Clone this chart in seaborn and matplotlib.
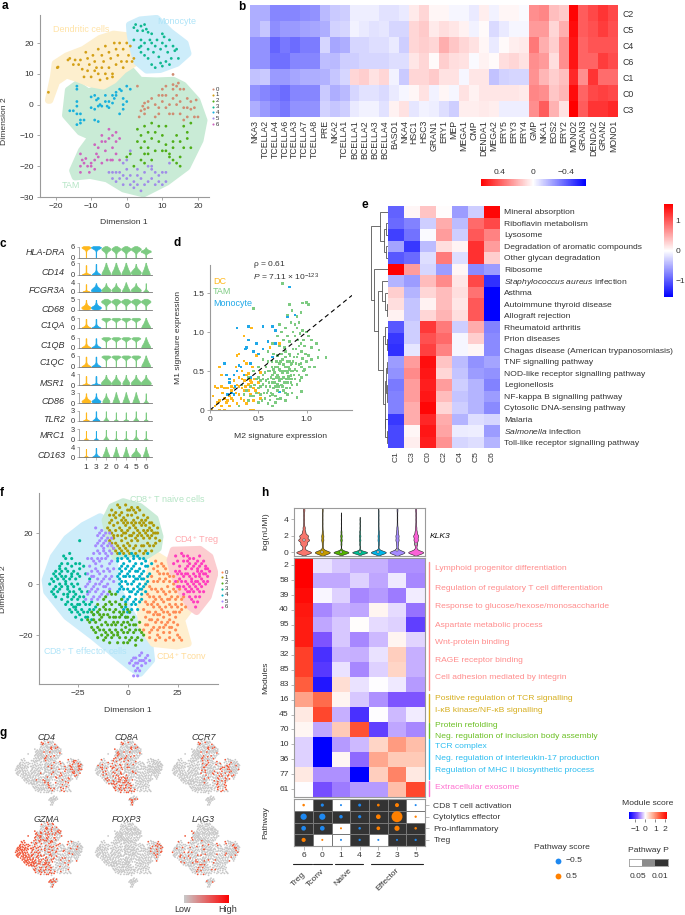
import numpy as np
import pandas as pd
import matplotlib
matplotlib.use('Agg')
import matplotlib.pyplot as plt
import seaborn as sns
from matplotlib.colors import LinearSegmentedColormap, ListedColormap, Normalize
from matplotlib.cm import ScalarMappable
from matplotlib.lines import Line2D

W, H = 685, 915

# ---------- panel a ----------
a_hull_dc = [(-22, 1.4), (-20.6, 9), (-20.1, 13.4), (-16.9, 15.8), (-12.2, 17.9), (-7.5, 21.5), (-3.7, 22.9), (.5, 22.3), (2.8, 13.9), (-.9, 11.2), (-3.7, 7.9), (-6.6, 6), (-10.3, 6.8), (-14, 8.5), (-16.9, 9.6), (-19.7, 7.4), (-21.6, 1.4)]
a_hull_mono = [(.75, 25.9), (3.75, 27.5), (8.4, 28), (12.2, 23.6), (16.4, 19.9), (17.2, 16.6), (14.1, 13.4), (9.4, 11.4), (5.6, 11.2), (2.8, 13.9), (1.4, 19.9), (.9, 23.2)]
a_hull_tam = [(-16.4, 4.7), (-14, 6.7), (-10.8, 4.1), (-7.5, 5.5), (-3.7, 6.8), (-.5, 10.7), (1.4, 11), (3.75, 7.9), (8.4, 7.7), (13.1, 7.9), (15.9, 6.3), (19.7, 1.4), (21.7, -5.1), (20.6, -11.6), (16.9, -20.3), (11.2, -25.2), (4.7, -29), (-.9, -27.4), (-5.6, -24.1), (-10.3, -23), (-14.5, -23.5), (-15.2, -21.4), (-12.7, -14.9), (-9.9, -10.5), (-13.1, -8.9), (-17.2, -3.5)]
a_pts = {
    1: [(-22,4),(-19.5,12),(-19.3,12.2),(-16.5,14.5),(-16,15),(-15,13),(-14.5,14.5),(-13.5,13),(-13,14.5),(-11.5,17),(-11,15),(-10.5,13),(-11,11),(-10,9),(-12,9),(-9.5,16),(-9,14),(-8.5,12),(-8,10),(-8,18),(-7,16),(-6.5,14),(-7,12),(-6,10),(-5.5,8.5),(-7.5,8),(-6,19),(-5,17),(-4.5,15),(-5,12),(-4,10),(-3,13),(-3,18),(-2.5,16),(-2,20),(-1.5,14),(-1,18),(0,20),(.5,16),(1,19),(-1,12),(0,14),(1.5,14),(2,15),(-9,11),(-12.5,11.5),(-3.5,20),(-4,9)],
    3: [(2,25),(2.5,26),(3,24),(4,25.5),(4.5,24),(5,26),(5.5,24.5),(6,23.5),(7,23),(2,21),(4,21),(5,20),(6,18),(7,20),(7.5,17),(8,19),(8.5,21),(9,15.5),(9.5,18),(10,20),(10.5,22),(11,19),(11.5,17),(12,21),(12.5,15),(13,19),(13.5,17.5),(14,18),(4,17),(5,16),(6,15),(7,13),(8,12),(10,12.5),(11,14),(3.5,18.5),(14.5,15),(6.5,21),(9.5,13.5),(4,19),(12,13),(10,23)],
    4: [(-14,6),(-14,5),(-10,2.5),(-9,3),(-8.5,1.5),(-8,2),(-7.5,0),(-10,-1),(-9,-1.5),(-8,-.5),(-7,-.5),(-6,1),(-5.5,-.5),(-5,-1),(-5,1),(-4,3),(-4,.5),(-3,4),(-3,3),(-2,5),(-1.5,4.5),(-1,2),(-1,0),(0,1),(-1,-1.5),(1,5),(0,6),(-2,-3),(-14,1),(-14,-.5),(-15,-2),(-14,-3),(-13,-3),(-16,-2),(-13,-5),(-13,-6),(-14,-6.5),(-12,-5),(-9,-5),(-8,-5.5),(-3.5,2),(-6,3)],
    0: [(3,6),(5,.5),(4.5,-.5),(6,1),(5,-1.5),(4,-2),(5,-3),(3.5,-4),(6,-1),(7,2),(8,0),(9,3),(9,-1),(10,3),(10,1),(11,-1),(11,3),(12,0),(12,-3),(13,5),(13,2),(13,-3),(14,0),(14,3),(14,6),(15,1),(15,-3),(13,6.5),(16,5),(16,-1),(17,2),(17,-1),(18,-1.5),(18,1),(19,-1),(20,-4),(19,-4),(17,-4),(16,-5),(15,5),(11,6),(10,5),(8,-4),(9,-3),(14.5,7),(19.5,1.5),(13,9.8)],
    2: [(3,-8),(5,-7),(7,-6),(9,-7),(11,-7),(8,-9),(6,-9),(4,-10),(3,-12),(5,-12),(7,-11),(10,-10),(9,-12),(11,-13),(14,-10),(13,-12),(16,-7),(17,-9),(18,-6),(17,-11),(15,-12),(16,-14),(18,-14),(13,-14),(11,-15),(10,-15),(4,-14),(5,-16),(4,-18),(6,-16),(8,-15),(7,-18),(5,-19),(1,-16),(0,-17),(2,-20),(12,-17),(13,-18),(15,-17),(14,-19),(12,-16),(15,-20),(6,-14)],
    6: [(-13,-22),(-13,-20),(-12.5,-18),(-13,-16),(-12,-19),(-11,-20),(-11.5,-17.5),(-10.5,-22),(-10,-19),(-9,-18),(-9,-21),(-8.5,-16),(-8,-14),(-8,-17),(-7,-12),(-7,-19),(-7,-10),(-6,-12),(-6,-15),(-5,-11),(-5,-8),(-5.5,-18),(-4,-10),(-4,-14),(-4,-18),(-3,-9),(-3,-12),(-3,-16),(-2,-18),(-2,-11),(-10,-20),(-9,-13),(-4.5,-18)],
    5: [(-5,-22),(-4,-24),(-3,-25),(-4,-22),(-2,-22),(-2,-24),(-1,-26),(0,-21),(0,-24),(1,-23),(1,-26),(2,-25),(2,-27),(3,-23),(3,-26),(4,-24),(4,-28),(5,-22),(5,-26),(6,-20),(6,-25),(7,-21),(7,-24),(8,-22),(8,-26),(9,-23),(9,-25),(10,-22),(11,-22),(11,-25),(-1,-19),(0,-18),(1,-15),(12,-19),(10,-26),(-3,-22),(3,-21),(7,-20),(-1,-23)],
}
a_palette = {0: '#D08C72', 1: '#D4A017', 2: '#4FAE17', 3: '#10B890', 4: '#18B0DC', 5: '#A08CE8', 6: '#CC66BE'}

# ---------- panel b ----------
b_cols = ['NKA3','TCELLA2','TCELLA4','TCELLA6','TCELLA3','TCELLA7','TCELLA8','PRE','NKA2','TCELLA1','BCELLA1','BCELLA2','BCELLA3','BCELLA4','BASO1','NKA4','HSC1','HSC3','GRAN1','ERY1','MEP','MEGA1','CMP','DENDA1','MEGA2','ERY5','ERY3','ERY4','GMP','NKA1','EOS2','ERY2','MONO2','GRAN3','DENDA2','GRAN2','MONO1']
b_rows = ['C2', 'C5', 'C4', 'C6', 'C1', 'C0', 'C3']
b_c2 = [-.2,-.2,-.3,-.3,-.3,-.28,-.27,-.17,-.13,-.12,-.04,-.04,-.04,-.07,-.07,-.05,.05,.1,.02,.02,-.02,-.02,-.05,.04,-.03,.02,.02,-.01,.28,.3,.16,.13,.62,.4,.45,.5,.45]
b_c5 = [-.2,-.14,-.28,-.25,-.25,-.23,-.22,-.2,-.11,-.1,-.03,-.05,-.07,-.06,-.1,-.1,.1,.13,.05,.08,.06,.03,-.03,.01,-.09,-.05,-.02,-.02,.25,.25,.1,.2,.6,.4,.43,.48,.43]
b_c4 = [-.27,-.27,-.38,-.33,-.36,-.32,-.32,-.1,-.22,-.2,-.1,-.1,-.08,-.08,-.05,-.12,.1,.12,.1,.2,.14,.1,.07,.02,-.05,.01,.04,.05,.33,.2,.12,.28,.58,.38,.42,.42,.42]
b_c6 = [-.27,-.27,-.35,-.35,-.3,-.3,-.3,-.16,-.17,-.12,-.12,-.1,-.1,-.1,-.08,-.08,.06,.1,.01,.12,.08,.07,-.01,.03,.01,.08,.1,.07,.28,.25,.08,.28,.58,.38,.38,.48,.44]
b_c1 = [-.15,-.13,-.25,-.25,-.22,-.2,-.2,-.19,-.14,-.1,.1,.12,.07,.1,-.03,-.13,.1,.1,.13,.07,.07,-.02,.06,.06,-.15,-.11,-.1,-.1,.27,.18,.12,.16,.53,.28,.5,.36,.36]
b_c0 = [-.27,-.3,-.33,-.36,-.3,-.3,-.3,-.13,-.2,-.17,-.1,-.07,-.07,-.09,-.05,-.02,.02,.07,-.03,.02,-.02,.07,.03,.06,.06,.06,.06,.05,.3,.28,.14,.18,.6,.38,.45,.47,.45]
b_c3 = [-.2,-.25,-.3,-.33,-.27,-.27,-.27,-.11,-.14,-.12,-.05,-.03,-.03,-.07,.03,.07,-.06,-.03,-.04,-.08,-.12,.04,.04,.05,.04,-.04,-.04,-.04,.28,.4,.19,.07,.63,.4,.5,.5,.53]

# ---------- panel c ----------
c_genes = ['HLA-DRA','CD14','FCGR3A','CD68','C1QA','C1QB','C1QC','MSR1','CD86','TLR2','MRC1','CD163']
c_ymax = [6, 6, 4, 5, 6, 6, 6, 4, 3, 3, 3, 4]
c_order = ['1', '3', '2', '0', '4', '5', '6']
c_levels = [0, .1, .2, .3, .4, .5, .6, .7, .8, .9, 1.0]
c_shapes = {
    'mush': [1, 1, 1, 1, 1, 1, 2, 6, 14, 22, 12],
    'dia':  [1, 1, 1, 1, 2, 4, 8, 12, 12, 8, 3],
    'low':  [1, 1, 1, 2, 6, 14, 14, 6, 2, 1, 0],
    'cone': [12, 10, 9, 8, 6, 5, 4, 3, 2, 1, 1],
    'dome': [10, 14, 14, 12, 9, 6, 3, 2, 1, 1, 0],
    'blob': [6, 14, 16, 12, 6, 3, 2, 1, 1, 1, 0],
    'spike': [20, 1, 1, 1, 1, 1, 1, 1, 1, 0, 0],
    'tail': [16, 8, 4, 2, 1, 1, 1, 1, 1, 1, 0],
}
c_rows = [
    ['mush','mush','dia','dia','dia','dia','low'],
    ['spike','tail','cone','cone','cone','dome','cone'],
    ['spike','dome','dome','dome','cone','dome','tail'],
    ['blob','blob','dia','dia','dia','dia','dia'],
    ['tail','tail','mush','mush','mush','mush','cone'],
    ['tail','tail','mush','mush','mush','mush','cone'],
    ['tail','tail','mush','mush','mush','mush','cone'],
    ['spike','spike','dome','dome','dome','dome','dome'],
    ['blob','blob','dome','cone','cone','cone','tail'],
    ['spike','tail','tail','spike','spike','tail','spike'],
    ['spike','spike','tail','spike','spike','tail','spike'],
    ['spike','tail','cone','cone','cone','dome','cone'],
]
c_widths = [
    [.9, 1., .9, .9, .95, 1., 1.],
    [.8, .8, .9, .9, .9, 1., .8],
    [.7, 1., .9, .9, .8, 1., .5],
    [.95, 1., .95, .9, .95, .95, .95],
    [.9, .9, .9, .9, .9, .9, .9],
    [.9, .9, .9, .9, .9, .9, .9],
    [.9, .9, .9, .9, .9, .9, .9],
    [.8, 1., 1., .9, .7, 1., 1.],
    [.9, .9, .7, .7, .7, .7, .5],
    [.6, .7, .5, .4, .5, .5, .4],
    [.4, .4, .5, .3, .4, .5, .4],
    [.5, .8, .7, .6, .6, .9, .6],
]
c_base_px = [257.5, 274.5, 291.7, 309.5, 328, 347.7, 366.7, 385, 403.3, 420.7, 439.7, 457.3]
c_top_px = [246.7, 263.3, 282.7, 299.3, 318.3, 337.7, 356, 374.3, 392.7, 410.7, 429.3, 447.3]
c_name_px = [252.3, 272.7, 290.7, 309, 326, 345, 362.3, 383.3, 401, 419.3, 436, 455.3]

# ---------- panel d ----------
d_tam = [(.3,.05),(.35,.2),(.4,.12),(.42,.3),(.45,.18),(.48,.4),(.5,.1),(.5,.28),(.52,.2),(.55,.45),(.55,.33),(.57,.15),(.58,.55),(.6,.25),(.6,.4),(.62,.5),(.62,.3),(.64,.62),(.65,.2),(.65,.45),(.67,.35),(.68,.55),(.7,.7),(.7,.25),(.7,.45),(.72,.6),(.72,.38),(.73,.5),(.75,.3),(.75,.65),(.76,.42),(.77,.8),(.78,.55),(.78,.22),(.8,.35),(.8,.48),(.8,.62),(.82,.72),(.82,.88),(.83,.28),(.84,.5),(.85,.4),(.85,.6),(.86,.78),(.88,.95),(.88,.52),(.9,.33),(.9,.68),(.9,1.05),(.92,.45),(.92,.82),(.94,.6),(.95,.75),(.95,.24),(.97,.9),(.98,.52),(1.0,1.0),(1.02,.7),(1.05,.8),(1.02,.95),(1.08,.55),(1.0,.62),(1.13,.77),(1.2,.67),(1.12,.67),(.75,1.62),(.45,1.3),(.72,1.1),(.8,1.22),(.85,1.28),(.82,1.35),(.9,1.2),(.92,1.12),(.94,1.25),(.96,1.37),(1.0,1.38),(1.02,1.35),(.78,1.05),(.7,.95),(.65,.85),(.6,.75),(.55,.65),(.5,.55),(.45,.5),(.4,.42),(.38,.25),(.33,.32),(.62,.13),(.68,.1),(.73,.15),(.78,.12),(.85,.22),(.9,.16),(.58,.38),(.63,.42),(.67,.48),(.72,.52),(.76,.58),(.81,.43),(.87,.45),(.83,.62),(.74,.72),(.69,.62),(.64,.55),(.6,.5),(.56,.22),(.52,.38),(.48,.22),(.95,.42),(1.0,.45),(.98,.82),(.93,.98),(.86,1.0),(.8,.95),(.76,.9),(.84,.35),(.79,.28),(.7,.33),(.66,.28),
         (.55,.4),(.6,.62),(.62,.18),(.64,.35),(.66,.52),(.68,.18),(.69,.42),(.7,.55),(.71,.3),(.73,.62),(.74,.4),(.75,.48),(.76,.25),(.77,.35),(.78,.68),(.79,.5),(.8,.2),(.81,.55),(.82,.4),(.83,.7),(.84,.58),(.85,.32),(.86,.5),(.87,.68),(.88,.4),(.89,.6),(.9,.5),(.91,.72),(.92,.58),(.93,.38),(.94,.85),(.96,.66),(.97,.5),(.99,.72),(.58,.3),(.61,.35),(.63,.22),(.66,.4),(.68,.3),(.71,.42),(.74,.32),(.76,.5),(.79,.4),(.82,.52),(.84,.44),(.86,.62),(.89,.78),(.91,.9),(.95,.55),(1.05,.65),(1.1,.85),(1.05,.9),(1.03,.55),(.96,1.02),(.88,1.1),(.84,1.12),(.74,1.0),(.66,.72),(.72,.82),(.78,.75),(.5,.42),(.46,.32),(.42,.18),(.52,.3),(.54,.12),(.57,.48),(.59,.22),(.6,.08),(.65,.05),(.7,.14)]
d_dc = [(.02,0),(.05,.05),(.03,.18),(.05,.3),(.1,.12),(.12,.05),(.13,.22),(.15,0),(.17,.1),(.18,.28),(.2,.05),(.2,.18),(.22,.3),(.24,.12),(.25,.38),(.27,.22),(.28,.08),(.3,.42),(.3,.3),(.32,.15),(.33,.5),(.35,.25),(.36,.38),(.38,.08),(.38,.6),(.4,.33),(.4,.47),(.42,.2),(.44,.55),(.45,.28),(.46,.4),(.48,.7),(.5,.35),(.52,.48),(.35,.63),(.3,.72),(.28,.7),(.1,.55),(.12,.45),(.08,.28),(.42,0),(.45,0),(.27,.55),(.22,.15),(.15,.15),(.43,1.05),(.35,.95),(.72,.85),(.62,.8),(.1,0),
        (.25,.28),(.28,.32),(.3,.2),(.33,.28),(.35,.12),(.37,.3),(.4,.25),(.43,.35),(.45,.12),(.47,.25),(.5,.22),(.52,.15),(.18,.12),(.15,.28),(.22,.25),(.08,.1),(.12,.3),(.33,.4),(.38,.45),(.42,.38)]
d_mono = [(.82,1.58),(.28,1.05),(.4,1.07),(.55,1.07),(.65,1.07),(.68,1.02),(.8,1.2),(.88,1.22),(.4,.9),(.37,.78),(.38,.8),(.3,.57),(.15,.6),(.17,.45),(.2,.4),(.25,.45),(.28,.5),(.32,.55),(.26,.3),(.22,.22),(.18,.2),(.35,.45),(.42,.6),(.48,.85),(.5,.72),(.55,.78),(.6,.88),(.68,.85),(.65,.68),(.42,.42),(.7,.42),(.72,.23),(.78,.22),(.2,.35),(.45,.75),(.25,.2)]

# ---------- panel e ----------
e_cols = ['C1', 'C3', 'C0', 'C2', 'C4', 'C5', 'C6']
e_rows = ['Mineral absorption', 'Riboflavin metabolism', 'Lysosome', 'Degradation of aromatic compounds', 'Other glycan degradation', 'Ribosome', r'$\mathit{Staphylococcus\ aureus}$ infection', 'Asthma', 'Autoimmune thyroid disease', 'Allograft rejection', 'Rheumatoid arthritis', 'Prion diseases', 'Chagas disease (American trypanosomiasis)', 'TNF signalling pathway', 'NOD-like receptor signalling pathway', 'Legionellosis', 'NF-kappa B signalling pathway', 'Cytosolic DNA-sensing pathway', 'Malaria', r'$\mathit{Salmonella}$ infection', 'Toll-like receptor signalling pathway']
e_values = [
    [-.95, .05, .35, .02, -.6, -.3, 1.5],
    [-.9, -.75, -.3, .5, -.4, .9, 1.1],
    [-1.15, -.85, -.03, .6, -.3, 1.0, .75],
    [-.55, -1.2, -.4, .2, .07, 1.25, .6],
    [-1.0, -.9, -.2, .8, -.2, 1.25, .3],
    [1.54, .6, -.25, -.6, .05, -.7, -.6],
    [-.45, -.6, .4, .7, .15, 1.1, -1.25],
    [.3, -.45, .25, .4, .2, .85, -1.54],
    [.2, -.35, .08, .4, .15, 1.0, -1.54],
    [.08, -.35, .25, .45, .2, 1.0, -1.54],
    [-1.0, -.3, 1.2, .8, -.3, .5, -.75],
    [-1.2, -.3, 1.05, .9, -.06, .3, -.7],
    [-1.25, -.15, 1.15, .75, -.06, .05, -.7],
    [-.6, .6, 1.45, .35, -.4, -.65, -.55],
    [-.65, .7, 1.4, .25, -.35, -.6, -.65],
    [-.8, .6, 1.35, .6, -.3, -.45, -.75],
    [-.75, .6, 1.4, .4, -.35, -.45, -.6],
    [-.75, .5, 1.5, .25, -.3, -.45, -.7],
    [-1.2, .5, 1.3, .5, -.45, -.2, -.25],
    [-1.1, .05, 1.4, .55, -.12, -.1, -.6],
    [-1.1, .1, 1.35, .65, -.25, -.2, -.45],
]
# nested merges: (height in px, child, child), a leaf is a row number
e_tree = (17,
          (8.7, 0, (4.5, (2.5, 1, 2), (2.5, 3, 4))),
          (14, 5,
           (10,
            (6, 6, (3, 7, (1, 8, 9))),
            (5, (3, 10, (1, 11, 12)),
             (3.5, (2, (1, 13, 14), (1.5, 15, (.8, 16, 17))), (3, 18, (1, 19, 20)))))))

# ---------- panel f ----------
f_hull_eff = [(-13.8,26.4),(-8,23.8),(-7.2,14.6),(-5.5,-1),(2.8,-12.8),(7.8,-18),(11.2,-24.5),(12,-29.8),(6.2,-35),(2,-33),(-7.2,-27.2),(-17.2,-20.7),(-30.5,-12.8),(-40.5,-3),(-41.3,1.6),(-37.2,10.7),(-30.5,17.9),(-22.2,23)]
f_hull_naive = [(-2.2,32.3),(6.2,30.4),(13.7,25.7),(16.2,18.6),(15.3,14),(8.7,10.7),(2.8,12),(-6.3,10.7),(-8.8,16),(-11.3,25),(-8,30.3)]
f_hull_treg = [(22.8,13.3),(36.2,13.6),(41.2,10.7),(43.7,4.2),(40.3,-5),(34.5,-10.8),(31.2,-8.9),(26.2,-2.4),(22.8,4.2),(21.2,9.4)]
f_hull_tconv = [(14.5,11.4),(21.2,8.1),(27.8,-1),(32,-8.9),(27,-14.1),(30.3,-23.3),(24.5,-24.3),(12.8,-23.3),(7,-16.7),(6.2,-8.9),(10.3,1.6),(12.8,10.7)]
f_pts = {
    1: [(-8,29),(-5,31),(-3,28),(-1,31),(2,30),(4,28),(6,29),(8,27),(-6,26),(-3,25),(0,27),(3,25),(5,26),(9,25),(11,24),(13,23),(-9,24),(-7,23),(-4,22),(-1,23),(1,22),(4,22),(7,23),(10,21),(12,21),(15,20),(-10,22),(-8,20),(-5,19),(-2,20),(1,19),(3,20),(6,20),(8,18),(11,18),(14,18),(-9,17),(-6,16),(-3,17),(0,16),(2,17),(5,17),(7,15),(10,16),(13,15),(16,17),(-7,14),(-4,14),(-1,14),(3,14),(6,13),(9,13),(12,13),(-5,12),(-2,12),(1,12),(-6,28),(-2,26),(2,27),(6,24),(10,26),(-9,27),(-4,30),(0,29),(12,19),(-7,18),(-1,18),(4,18),(8,21),(15,22),
        (-7,27),(-4,27),(-1,25),(1,29),(3,29),(5,30),(7,25),(9,23),(11,22),(-8,25),(-5,24),(-2,24),(0,24),(2,24),(4,24),(8,24),(12,24),(-9,21),(-6,21),(-3,21),(0,21),(3,23),(5,21),(9,20),(13,20),(-7,19),(-3,19),(-1,20),(2,19),(5,19),(7,19),(10,19),(14,20),(-8,16),(-5,15),(-2,15),(1,15),(4,15),(8,15),(11,15),(14,16),(-6,13),(-3,13),(0,13),(4,12),(8,12)],
    4: [(-4,12),(-1,11),(2,12),(5,11),(8,10),(10,12),(12,8),(-5,9),(-2,8),(1,9),(4,8),(7,8),(10,7),(-4,6),(-1,6),(2,6),(5,5),(8,5),(11,4),(-5,3),(-2,3),(1,3),(4,2),(7,2),(10,1),(-4,0),(-1,1),(2,0),(5,-1),(8,-1),(-5,-3),(-2,-2),(1,-3),(4,-4),(7,-4),(9,-3),(-3,-6),(0,-6),(3,-7),(6,-7),(-1,-9),(2,-10),(5,-10),(-5,10),(0,4),(3,10),(6,3),(-3,-1),(3,-2),(9,9),(-1,-13),(-3,-12),(0,-11),(6,0),(-4,4),
        (-3,10),(0,10),(3,11),(6,10),(9,7),(-3,7),(0,7),(3,7),(6,6),(-3,5),(1,5),(4,5),(7,4),(10,3),(-4,2),(-1,3),(3,3),(5,2),(8,2),(-3,1),(0,0),(3,1),(6,-2),(9,0),(-4,-2),(0,-2),(2,-3),(5,-3),(7,-2),(-2,-5),(1,-5),(4,-6),(7,-6),(-1,-7),(2,-8),(4,-8),(-4,-8),(-2,-10),(1,-11)],
    0: [(14,9),(17,8),(19,6),(13,6),(16,4),(20,4),(23,3),(12,3),(15,1),(18,1),(21,1),(25,1),(11,-1),(14,-2),(17,-2),(20,-1),(23,-2),(26,-2),(10,-4),(13,-5),(16,-5),(19,-4),(22,-5),(25,-5),(28,-5),(9,-7),(12,-8),(15,-8),(18,-7),(21,-8),(24,-8),(27,-8),(8,-10),(11,-11),(14,-11),(17,-10),(20,-11),(23,-11),(26,-11),(29,-9),(9,-13),(12,-14),(15,-14),(18,-13),(21,-14),(24,-13),(10,-16),(13,-17),(16,-17),(19,-16),(22,-17),(25,-16),(8,-18),(11,-19),(15,-20),(18,-19),(21,-19),(25,-20),(27,-22),(14,-22),(19,-22),(23,-22),(16,-12),(20,-6),(13,-9),
        (15,7),(18,7),(15,5),(18,4),(21,3),(13,1),(16,2),(19,2),(23,0),(12,-2),(15,-3),(18,-3),(21,-3),(24,-3),(11,-5),(14,-6),(17,-6),(21,-6),(24,-6),(27,-6),(10,-8),(13,-7),(16,-9),(19,-9),(22,-9),(25,-9),(10,-11),(13,-12),(15,-12),(18,-11),(21,-12),(24,-11),(27,-10),(11,-14),(14,-15),(17,-15),(20,-15),(23,-15),(9,-16),(12,-18),(15,-18),(18,-17),(21,-17),(24,-18),(11,-21),(16,-21),(21,-21),(26,-21)],
    6: [(24,11),(27,12),(30,11),(33,10),(36,11),(28,9),(31,8),(34,8),(37,8),(39,6),(23,8),(26,7),(29,6),(32,6),(35,5),(38,4),(41,5),(25,4),(28,3),(31,3),(34,3),(37,2),(40,3),(24,1),(27,1),(30,0),(33,0),(36,0),(39,0),(26,-1),(29,-2),(32,-2),(35,-2),(38,-3),(28,-4),(31,-5),(34,-5),(36,-5),(33,-7),(30,9),(35,6),(32,2),(37,5),(29,4),(39,7),(31,-3),(34,1),(36,3),(40,1),
        (25,9),(28,11),(31,10),(35,9),(38,9),(26,5),(30,7),(33,7),(36,7),(40,6),(24,5),(27,4),(30,4),(33,4),(36,4),(39,4),(26,2),(29,1),(32,1),(35,1),(38,1),(25,-1),(28,-1),(31,-1),(34,-1),(37,-1),(30,-3),(33,-3),(36,-3),(32,-6),(35,-7),(34,-9)],
    3: [(-32,11),(-29,12),(-26,8),(-33,8),(-30,8),(-36,5),(-33,5),(-30,5),(-27,5),(-24,6),(-21,4),(-38,2),(-35,2),(-32,2),(-29,2),(-26,2),(-39,0),(-36,-1),(-33,-1),(-30,-1),(-27,-1),(-38,-3),(-35,-3),(-32,-4),(-29,-3),(-24,8),(-36,3),(-31,0),(-34,6),(-28,7),(-26,-4),(-28,-6),(-25,-6),(-22,-5),(-30,-7),(-27,-9),(-24,-8),(-21,-8),(-18,-7),(-28,-11),(-25,-11),(-22,-11),(-19,-10),(-16,-9),(-26,-13),(-23,-14),(-20,-13),(-17,-12),(-30,-4),(-37,-4),(-33,3),(-26,-9),(-23,-3),(-20,-3),(-22,7),(-19,2),(-24,17),
        (-31,10),(-28,10),(-34,7),(-31,6),(-28,4),(-25,4),(-37,4),(-34,4),(-31,3),(-28,3),(-24,3),(-37,1),(-34,0),(-31,1),(-28,0),(-25,0),(-37,-2),(-34,-2),(-30,-2),(-27,-3),(-24,-2),(-36,-5),(-33,-6),(-30,-5),(-27,-5),(-24,-5),(-31,-8),(-28,-8),(-25,-8),(-22,-7),(-19,-8),(-29,-10),(-26,-10),(-23,-10),(-20,-11),(-17,-10),(-24,-12),(-21,-13),(-18,-14),(-15,-11)],
    5: [(-16,22),(-13,21),(-15,19),(-12,19),(-9,20),(-14,17),(-11,17),(-8,18),(-16,15),(-13,15),(-10,15),(-7,14),(-17,12),(-14,12),(-11,12),(-8,12),(-20,10),(-17,9),(-14,9),(-11,10),(-8,9),(-19,7),(-16,6),(-13,7),(-10,6),(-7,6),(-20,4),(-17,3),(-14,4),(-11,3),(-8,3),(-19,1),(-16,0),(-13,1),(-10,0),(-21,-1),(-18,-2),(-15,-2),(-12,-3),(-9,-2),(-20,-4),(-17,-5),(-14,-5),(-12,14),(-15,10),(-9,5),(-12,-1),(-21,-6),(2,-30),(4,-29),(6,-28),(8,-30),(10,-28),(3,-32),(5,-31),(7,-32),(9,-31),(4,-34),(6,-34),(3,-36),(5,-36),(7,-27),(1,-31),(11,-30),
        (-14,20),(-11,20),(-13,18),(-10,18),(-15,16),(-12,16),(-9,16),(-8,15),(-15,13),(-12,13),(-9,13),(-18,10),(-16,8),(-13,10),(-10,11),(-9,8),(-18,5),(-15,5),(-12,5),(-9,2),(-18,3),(-15,2),(-12,2),(-7,1),(-20,0),(-17,-1),(-14,0),(-11,-1),(-19,-3),(-16,-3),(-13,-4),(-10,-4),(-18,-6),(-15,-6),(3,-29),(5,-33),(7,-30),(9,-29),(4,-31),(6,-30)],
    2: [(-9,-3),(-6,-4),(-12,-6),(-9,-7),(-6,-7),(-3,-6),(-15,-8),(-12,-9),(-9,-10),(-6,-10),(-3,-9),(0,-10),(-18,-11),(-15,-11),(-12,-12),(-9,-13),(-6,-13),(-3,-12),(0,-13),(3,-13),(-20,-14),(-17,-14),(-14,-14),(-11,-15),(-8,-16),(-5,-15),(-2,-15),(1,-16),(4,-16),(-18,-17),(-15,-17),(-12,-18),(-9,-18),(-6,-18),(-3,-18),(0,-19),(3,-19),(6,-18),(-16,-19),(-13,-20),(-10,-20),(-7,-20),(-4,-21),(-1,-21),(2,-21),(5,-21),(8,-20),(-12,-22),(-9,-23),(-5,-23),(0,-23),(4,-24),(7,-22),(-14,-12),(-4,-11),(-7,-15),(-11,-8),(-1,-17),
        (-8,-4),(-11,-5),(-8,-8),(-4,-8),(-1,-8),(-14,-10),(-11,-10),(-7,-11),(-2,-11),(1,-11),(-17,-12),(-13,-13),(-10,-12),(-7,-13),(-4,-13),(-1,-13),(2,-14),(-19,-15),(-16,-15),(-13,-16),(-10,-16),(-6,-16),(-3,-16),(0,-15),(3,-16),(6,-15),(-17,-18),(-14,-18),(-11,-19),(-8,-19),(-5,-19),(-2,-19),(1,-18),(4,-18),(-15,-21),(-11,-21),(-8,-21),(-5,-20),(-2,-23),(1,-22),(4,-22),(7,-19)],
}
f_palette = {0: '#FF8C55', 1: '#AE9A08', 2: '#4DAA1A', 3: '#00B894', 4: '#00AFC8', 5: '#A58AFF', 6: '#FF3DBE'}

# ---------- panel g ----------
g_genes = ['CD4', 'CD8A', 'CCR7', 'GZMA', 'FOXP3', 'LAG3']
# how often a cluster's cells light up for that gene: one in n, missing means never
g_every = {
    'CD4': {6: 3, 0: 5, 1: 7, 2: 9, 4: 11},
    'CD8A': {2: 2, 5: 3, 3: 5, 1: 7, 4: 7},
    'CCR7': {0: 3, 4: 5, 1: 7, 6: 6},
    'GZMA': {3: 1, 2: 2, 5: 2, 1: 3, 4: 3, 0: 9, 6: 10},
    'FOXP3': {6: 4},
    'LAG3': {3: 8, 2: 8, 6: 7, 5: 8, 4: 10, 0: 13},
}
g_boxes = [(11, 736, 86, 808), (91, 736, 166, 808), (168, 736, 243, 808),
           (11, 818, 86, 890), (91, 818, 166, 890), (168, 818, 243, 890)]

# ---------- panel h ----------
h_cols = ['6', '0', '1', '4', '2', '3', '5']
h_rows = ['2', '58', '39', '40', '95', '79', '32', '85', '83', '16', '45', '70', '10', '36', '77', '61']
h_values = [
    [2.2, -.12, -.25, -.35, -.35, -.5, -.5],
    [2.2, -.38, -.38, -.2, -.4, -.1, -.55],
    [2.1, -.03, -.2, -.55, -.45, -.6, -.08],
    [2.0, -.55, -.35, -.4, .1, -.15, -.65],
    [1.95, -.4, -.25, .03, -.15, -.2, -1.0],
    [1.95, -.8, -.25, -.55, -.3, .1, -.18],
    [1.65, -1.15, -.33, -.35, -.12, .45, -.35],
    [1.65, -1.05, -.12, -.55, -.2, .4, -.35],
    [1.4, -1.4, .3, -.12, 0, -.1, -.45],
    [.85, 1.3, .1, -.25, -.5, -.8, -.8],
    [.2, 1.6, -.35, -1.15, 0, -.3, -.08],
    [.08, -.4, .5, 1.5, -1.0, -.4, -.55],
    [-.2, -1.63, -.45, -.3, .4, .9, .6],
    [-.2, -1.63, .08, -.7, .8, .5, .5],
    [.2, -.5, -.5, -1.63, .45, 1.1, .2],
    [0, -.85, -.6, -.45, -.45, .6, 1.6],
]
h_terms = [
    ('Lymphoid progenitor differentiation', 568.7, 0), ('Regulation of regulatory T cell differentiation', 588, 0),
    ('Response to glucose/hexose/monosaccharide', 606.3, 0), ('Aspartate metabolic process', 625.3, 0),
    ('Wnt-protein binding', 642.7, 0), ('RAGE receptor binding', 661, 0), ('Cell adhesion mediated by integrin', 677.3, 0),
    ('Positive regulation of TCR signalling', 699, 1), ('I-κB kinase/NF-κB signalling', 710, 1),
    ('Protein refolding', 725.7, 2), ('Neg. regulation of inclusion body assembly', 736.5, 2),
    ('TCR complex', 746.5, 3), ('Neg. regulation of interleukin-17 production', 758.3, 3),
    ('Regulation of MHC II biosynthetic process', 771, 3), ('Extracellular exosome', 787.7, 4),
]
h_term_colors = ['#FF8C8C', '#D6AE1E', '#6CC024', '#2CBDF0', '#FF70D0']
h_term_bars = [(561.7, 690), (694, 721.7), (723, 738), (739, 778.7), (781, 796)]
h_violin_colors = ['#F8766D', '#C49A00', '#53B400', '#00C094', '#00B6EB', '#A58AFF', '#FB61D7']
h_levels = [0, .5, 1, 1.5, 2, 2.5, 3, 3.5, 4, 4.5, 5, 5.3]
h_counts = [
    [14, 2, 6, 10, 8, 3, 2, 1, 1, 1, 1, 1],
    [30, 2, 2, 4, 4, 2, 1, 1, 1, 1, 1, 1],
    [30, 1, 2, 3, 3, 2, 1, 1, 1, 1, 0, 0],
    [30, 1, 2, 3, 3, 2, 1, 1, 1, 0, 0, 0],
    [30, 1, 2, 3, 3, 2, 1, 1, 1, 1, 1, 0],
    [25, 2, 3, 5, 5, 3, 2, 1, 1, 1, 1, 1],
    [22, 2, 4, 6, 7, 3, 2, 1, 1, 1, 1, 1],
]
h_pathways = ['CD8 T cell activation', 'Cytolytics effector', 'Pro-inflammatory', 'Treg']
h_dark = [
    [0, 1, 0, 1, 1, 1, 0],
    [1, 1, 1, 1, 1, 1, 0],
    [1, 1, 0, 1, 1, 1, 1],
    [1, 0, 0, 1, 0, 1, 1],
]
h_scores = [
    [.05, -.08, -.03, -.07, .06, .13, -.03],
    [-.32, -.32, -.1, -.08, .18, 1.0, .04],
    [-.18, -.18, .03, -.05, .11, .22, .05],
    [.14, .03, -.03, -.04, -.03, -.03, -.04],
]
h_groups = [('Treg', 293, 311.7, 298, 879), ('Tconv', 313, 332, 316, 878), ('Naive', 335, 363, 343, 877), ('Effector', 370.7, 422.7, 388, 880)]

# ---------- theme ----------
sns.set_style('white')
plt.rcParams['font.family'] = ['Liberation Sans', 'DejaVu Sans']
plt.rcParams['mathtext.fontset'] = 'custom'
plt.rcParams['mathtext.rm'] = 'Liberation Sans'
plt.rcParams['mathtext.it'] = 'Liberation Sans:italic'
plt.rcParams['mathtext.default'] = 'regular'
plt.rcParams['font.size'] = 6.1
TXT = '#333333'
GREY = '#9a9a9a'

fig = plt.figure(figsize=(W / 100, H / 100), dpi=100, facecolor='white')


def px_ax(l, t, r, b, **kw):
    return fig.add_axes([l / W, 1 - b / H, (r - l) / W, (b - t) / H], **kw)


def ftext(x, y, s, **kw):
    kw.setdefault('va', 'center')
    kw.setdefault('color', TXT)
    kw.setdefault('fontsize', 6.1)
    fig.text(x / W, 1 - y / H, s, **kw)


def fline(xs, ys, **kw):
    fig.add_artist(Line2D([x / W for x in xs], [1 - y / H for y in ys], **kw))


def pts_frame(pts):
    rows = [(k, x, y, i) for k, v in pts.items() for i, (x, y) in enumerate(v)]
    return pd.DataFrame(rows, columns=['cluster', 'x', 'y', 'i'])


def hull(ax, pts, color):
    ax.fill([p[0] for p in pts], [p[1] for p in pts], facecolor=color, edgecolor=color,
            linewidth=5, joinstyle='round', zorder=0)


def style_open(ax):
    sns.despine(ax=ax)
    for s in ['left', 'bottom']:
        ax.spines[s].set_color(GREY)
        ax.spines[s].set_linewidth(.8)
    ax.tick_params(length=2.2, width=.6, color=GREY, labelsize=6.1, labelcolor=TXT, pad=2,
                   left=True, bottom=True)
    ax.set_xlabel('')
    ax.set_ylabel('')
    ax.patch.set_alpha(0)


def cluster_legend(x, y_list, tx, pal):
    for k, y in zip(range(7), y_list):
        fline([x], [y], marker='o', ms=1.5, mew=0, color=pal[k], ls='none')
        ftext(tx, y, str(k), fontsize=4.3)


# panel letters
for s, x, y in [('a', 2, 6), ('b', 238, 7), ('c', 0, 244), ('d', 174, 243), ('e', 362, 205),
                ('f', 0, 493), ('g', 0, 733), ('h', 261, 493)]:
    ftext(x, y, s, fontweight='bold', fontsize=8.5, color='black')

# ---------- a ----------
ax = px_ax(39.5, 15, 209, 197)
hull(ax, a_hull_tam, '#C9EBD6')
hull(ax, a_hull_dc, '#FDEFCE')
hull(ax, a_hull_mono, '#CDEDFA')
a_df = pts_frame(a_pts)
sns.scatterplot(data=a_df, x='x', y='y', hue='cluster', palette=a_palette, s=4, linewidth=0, legend=False, ax=ax)
ax.set_xlim(-24.5, 23.1)
ax.set_ylim(-30, 29.1)
ax.set_xticks([-20, -10, 0, 10, 20])
ax.set_yticks([-30, -20, -10, 0, 10, 20])
style_open(ax)
ftext(124.3, 222.7, 'Dimension 1', ha='center')
ftext(5, 120.7, 'Dimension 2', rotation=90, ha='center')
ftext(81, 29, 'Dendritic cells', ha='center', color='#FFE3A6', fontsize=6.5)
ftext(177, 22, 'Monocyte', ha='center', color='#AEE4F8', fontsize=6.5)
ftext(71, 185, 'TAM', ha='center', color='#B5E5C5', fontsize=6.5)
cluster_legend(213, [89.3, 95, 100.7, 106.7, 112.3, 118.3, 124], 216, a_palette)

# ---------- b ----------
ax = px_ax(250, 5, 618.3, 117.3)
b_df = pd.DataFrame([b_c2, b_c5, b_c4, b_c6, b_c1, b_c0, b_c3], index=b_rows, columns=b_cols)
sns.heatmap(b_df, cmap='bwr', vmin=-.63, vmax=.63, cbar=False, ax=ax, xticklabels=True, yticklabels=True)
ax.yaxis.tick_right()
ax.tick_params(axis='y', length=0, labelsize=6.3, labelrotation=0, labelcolor=TXT, pad=3)
ax.tick_params(axis='x', length=0, labelsize=6.3, labelrotation=90, labelcolor=TXT, pad=2)
cax = px_ax(480.7, 179, 585.7, 186)
cb = fig.colorbar(ScalarMappable(Normalize(-.63, .63), 'bwr'), cax=cax, orientation='horizontal')
cb.outline.set_visible(False)
cax.invert_xaxis()
cb.set_ticks([.4, 0, -.4], labels=['0.4', '0', '−0.4'])
cax.xaxis.tick_top()
cax.tick_params(length=0, labelsize=6.1, labelcolor=TXT, pad=2)

# ---------- c ----------
for g, gene in enumerate(c_genes):
    base, tick = c_base_px[g], c_top_px[g]
    ax = px_ax(79, tick - 3, 152, base)
    for pos, (cl, shape, w) in enumerate(zip(c_order, c_rows[g], c_widths[g])):
        sample = np.repeat(c_levels, c_shapes[shape]) * c_ymax[g] * 1.05
        col = '#FFB81C' if cl == '1' else '#1FA8E8' if cl == '3' else '#7DCB82'
        sns.violinplot(x=np.full(len(sample), pos), y=sample, orient='x', native_scale=True, width=w, color=col,
                       saturation=1, linecolor=col, linewidth=.5, inner=None, cut=0, bw_adjust=.6,
                       density_norm='width', ax=ax)
    ax.set_xlim(-.7, 6.63)
    ax.set_ylim(0, c_ymax[g] * (base - tick + 3) / (base - tick))
    ax.set_yticks([0, c_ymax[g]])
    sns.despine(ax=ax)
    ax.spines['left'].set_color(GREY)
    ax.spines['left'].set_linewidth(.6)
    ax.spines['left'].set_bounds(0, c_ymax[g])
    ax.spines['bottom'].set_color('#777777')
    ax.spines['bottom'].set_linewidth(.6)
    ax.tick_params(axis='y', length=1.8, width=.5, color=GREY, labelsize=5.4, labelcolor=TXT, pad=1, left=True)
    ax.set_ylabel('')
    ax.patch.set_alpha(0)
    if g == len(c_genes) - 1:
        ax.set_xticks(range(7), c_order)
        ax.tick_params(axis='x', length=2, width=.5, color=GREY, labelsize=6, labelcolor=TXT, pad=3, bottom=True)
    else:
        ax.set_xticks([])
    ftext(65, c_name_px[g], gene, ha='right', style='italic', fontsize=6.5)

# ---------- d ----------
ax = px_ax(210, 265, 352, 410)
d_df = pd.concat([pd.DataFrame(d_dc, columns=['x', 'y']).assign(kind='DC'),
                  pd.DataFrame(d_mono, columns=['x', 'y']).assign(kind='Monocyte'),
                  pd.DataFrame(d_tam, columns=['x', 'y']).assign(kind='TAM')])
d_pal = {'DC': '#FFB81C', 'TAM': '#7DCB82', 'Monocyte': '#1FA8E8'}
sns.scatterplot(data=d_df, x='x', y='y', hue='kind', palette=d_pal, s=3.5, marker='s', linewidth=0, legend=False, ax=ax, clip_on=False)
ax.plot([0, 1.47], [0, 1.47], color='black', lw=.8, ls=(0, (4, 3)))
ax.set_xlim(0, 1.47)
ax.set_ylim(0, 1.86)
ax.set_xticks([0, .5, 1.0], ['0', '0.5', '1.0'])
ax.set_yticks([0, .5, 1.0, 1.5], ['0', '0.5', '1.0', '1.5'])
style_open(ax)
ftext(280, 436, 'M2 signature expression', ha='center')
ftext(178, 337, 'M1 signature expression', ha='center', rotation=90)
ftext(253, 264, r'$\rho$ = 0.61', color=TXT)
ftext(253, 277, r'$\mathit{P}$ = 7.11 × 10$^{-123}$', color=TXT)
ftext(213, 282, 'DC', color=d_pal['DC'], fontsize=6.5)
ftext(213, 292, 'TAM', color=d_pal['TAM'], fontsize=6.5)
ftext(213, 303, 'Monocyte', color=d_pal['Monocyte'], fontsize=6.5)

# ---------- e ----------
ax = px_ax(388.3, 206, 500, 448.3)
e_df = pd.DataFrame(e_values, index=e_rows, columns=e_cols)
sns.heatmap(e_df, cmap='bwr', vmin=-1.54, vmax=1.54, cbar=False, ax=ax, xticklabels=True, yticklabels=True)
ax.yaxis.tick_right()
ax.tick_params(axis='y', length=0, labelsize=6.1, labelrotation=0, labelcolor=TXT, pad=3.2)
ax.tick_params(axis='x', length=0, labelsize=6.1, labelrotation=90, labelcolor=TXT, pad=2)

dax = px_ax(368, 206, 388.3, 448.3)
dax.set_xlim(20.3, 0)
dax.set_ylim(21, 0)
dax.axis('off')


def draw_tree(node):
    if not isinstance(node, tuple):
        return node + .5, 0
    h, a, b = node
    ya, ha = draw_tree(a)
    yb, hb = draw_tree(b)
    dax.plot([ha, h, h, hb], [ya, ya, yb, yb], color='#555555', lw=.6, solid_joinstyle='miter')
    return (ya + yb) / 2, h


draw_tree(e_tree)
cax = px_ax(663.7, 204.3, 673.3, 297.3)
cb = fig.colorbar(ScalarMappable(Normalize(-1.54, 1.54), 'bwr'), cax=cax)
cb.outline.set_visible(False)
cb.set_ticks([1, 0, -1], labels=['1', '0', '−1'])
cax.tick_params(length=0, labelsize=6, labelcolor=TXT, pad=1.5)

# ---------- f ----------
ax = px_ax(38.7, 493, 218, 684.3)
hull(ax, f_hull_eff, '#CDEDFA')
hull(ax, f_hull_tconv, '#FFEFCF')
hull(ax, f_hull_treg, '#FCCDD0')
hull(ax, f_hull_naive, '#C9EBD6')
f_df = pts_frame(f_pts)
sns.scatterplot(data=f_df, x='x', y='y', hue='cluster', palette=f_palette, s=5, linewidth=0, legend=False, ax=ax)
ax.set_xlim(-44.5, 45.2)
ax.set_ylim(-39.3, 35.7)
ax.set_xticks([-25, 0, 25])
ax.set_yticks([-20, 0, 20])
style_open(ax)
ftext(128, 710, 'Dimension 1', ha='center')
ftext(4, 589, 'Dimension 2', ha='center', rotation=90)
ftext(166.7, 499.3, 'CD8$^{+}$ T naive cells', ha='center', color='#B5E5C5', fontsize=6.5)
ftext(196, 540, 'CD4$^{+}$ Treg', ha='center', color='#FFA8AD', fontsize=6.5)
ftext(85, 651, 'CD8$^{+}$ T effector cells', ha='center', color='#B0E4F8', fontsize=6.5)
ftext(181.7, 655.7, 'CD4$^{+}$ Tconv', ha='center', color='#FFDC9A', fontsize=6.5)
cluster_legend(221.7, [572, 577.3, 582.7, 589, 595, 601.3, 607], 225, f_palette)

# ---------- g ----------
for gene, box in zip(g_genes, g_boxes):
    ax = px_ax(*box)
    every = g_every[gene]
    g_df = f_df.copy()
    g_df['high'] = [(i % every[c] == 0) if c in every else False for c, i in zip(g_df['cluster'], g_df['i'])]
    sns.scatterplot(data=g_df.sort_values('high'), x='x', y='y', hue='high', palette={False: '#C8C8C8', True: '#F0583A'},
                    s=1.6, linewidth=0, legend=False, ax=ax)
    ax.set_xlim(-44.5, 45.2)
    ax.set_ylim(-39.3, 35.7)
    ax.axis('off')
    ftext((box[0] + box[2]) / 2 - 2, box[1] + 1, gene, ha='center', style='italic', fontsize=6.5)
cax = px_ax(184.3, 895, 229.3, 903)
cb = fig.colorbar(ScalarMappable(Normalize(0, 1), LinearSegmentedColormap.from_list('lowhigh', ['#C8C8C8', '#FF0000'])),
                  cax=cax, orientation='horizontal', ticks=[])
cb.outline.set_visible(False)
ftext(183, 910, 'Low', ha='center', fontsize=6.5)
ftext(227.3, 910, 'High', ha='center', fontsize=6.5)

# ---------- h violins ----------
ax = px_ax(294.3, 508.3, 425, 555.7)
for pos, (cnt, col) in enumerate(zip(h_counts, h_violin_colors)):
    sample = np.repeat(h_levels, cnt)
    sns.violinplot(x=np.full(len(sample), pos), y=sample, orient='x', native_scale=True, width=.8, color=col,
                   saturation=1, linecolor='#222222', linewidth=.4, inner=None, cut=2, bw_adjust=.3,
                   density_norm='width', ax=ax)
    ax.scatter([pos], [np.median(sample)], marker='s', s=4, facecolor='white', edgecolor='#222222', linewidth=.3, zorder=5)
ax.set_xlim(-.5, 6.5)
ax.set_ylim(-.41, 5.33)
ax.set_xticks([])
ax.set_yticks([0, 2, 4])
ax.set_ylabel('')
ax.tick_params(axis='y', length=2, width=.5, color=GREY, labelsize=6.1, labelcolor=TXT, pad=2, left=True)
for s in ax.spines.values():
    s.set_color(GREY)
    s.set_linewidth(.8)
ftext(265.7, 531, 'log(nUMI)', ha='center', rotation=90)
ftext(430, 536.7, 'KLK3', style='italic', color='#111111')

# ---------- h module heatmap ----------
mod_pos = [(0, '#0000FF'), (.21, '#7A50FF'), (.33, '#C4ACFF'), (.4256, '#FFFFFF'), (.6, '#FFB8A0'), (.8, '#FF5A3A'), (1, '#FF0000')]
mod_cmap = LinearSegmentedColormap.from_list('module', mod_pos)
ax = px_ax(294.3, 557.7, 425, 796.7)
h_df = pd.DataFrame(h_values, index=h_rows, columns=h_cols)
sns.heatmap(h_df, cmap=mod_cmap, vmin=-1.63, vmax=2.2, cbar=False, ax=ax, xticklabels=False, yticklabels=True)
ax.tick_params(axis='y', length=2, width=.5, color=GREY, labelsize=6.1, labelrotation=0, labelcolor=TXT, pad=2, left=True)
for s in ax.spines.values():
    s.set_visible(True)
    s.set_color(GREY)
    s.set_linewidth(.8)
ftext(265.7, 678, 'Modules', ha='center', rotation=90)
for c, (t, b) in zip(h_term_colors, h_term_bars):
    fline([429, 429], [t, b], color=c, lw=1)
for term, y, c in h_terms:
    ftext(434.7, y, term, color=h_term_colors[c])

# ---------- h pathway ----------
ax = px_ax(294.3, 799.3, 425, 845.7)
p_df = pd.DataFrame(h_dark, index=h_pathways, columns=h_cols)
sns.heatmap(p_df, cmap=ListedColormap(['white', '#333333']), vmin=0, vmax=1, cbar=False, linewidths=.5, linecolor='#777777',
            ax=ax, xticklabels=True, yticklabels=True)
dots = pd.DataFrame([(c + .5, r + .5, abs(v), 'pos' if v > 0 else 'neg')
                     for r, row in enumerate(h_scores) for c, v in enumerate(row)], columns=['c', 'r', 'size', 'sign'])
sns.scatterplot(data=dots, x='c', y='r', hue='sign', palette={'pos': '#FF8000', 'neg': '#1E88F0'}, size='size',
                sizes=(.3, 62), size_norm=(0, 1), linewidth=0, legend=False, ax=ax)
ax.set_xlabel('')
ax.set_ylabel('')
ax.yaxis.tick_right()
ax.tick_params(axis='y', length=3, width=.5, color=GREY, labelsize=6.1, labelrotation=0, labelcolor=TXT, pad=3, right=True)
ax.tick_params(axis='x', length=3, width=.5, color=GREY, labelsize=6.1, labelrotation=0, labelcolor=TXT, pad=1.5, bottom=True)
for s in ax.spines.values():
    s.set_visible(True)
    s.set_color(GREY)
    s.set_linewidth(.8)
ftext(265.7, 823, 'Pathway', ha='center', rotation=90)
for name, x0, x1, tx, ty in h_groups:
    fline([x0, x1], [863.7, 863.7], color='#222222', lw=.8)
    ftext(tx, ty, name, rotation=45, ha='center')

# ---------- h legends ----------
ftext(648, 803.7, 'Module score', ha='center')
cax = px_ax(629, 811.7, 667.3, 818.7)
cb = fig.colorbar(ScalarMappable(Normalize(-1.63, 2.2), mod_cmap), cax=cax, orientation='horizontal')
cb.outline.set_visible(False)
cb.set_ticks([-1, 0, 1, 2], labels=['−1', '0', '1', '2'])
cax.tick_params(length=2, width=.4, color=TXT, labelsize=6.1, labelcolor=TXT, pad=3)

ftext(562, 847.7, 'Pathway score', ha='center')
fline([557.7], [860.7], marker='o', ms=4.2, mew=0, color='#1E88F0', ls='none')
fline([557.7], [876], marker='o', ms=4.2, mew=0, color='#FF8000', ls='none')
ftext(565.7, 860.7, '−0.5')
ftext(565.7, 876, '0.5')

ftext(648, 850.3, 'Pathway P', ha='center')
cax = px_ax(628.7, 859, 667.7, 865.7)
pval_bands = [[0, 1, 2]]
sns.heatmap(pval_bands, cmap=ListedColormap(['white', '#8c8c8c', '#333333']), cbar=False, ax=cax, xticklabels=False, yticklabels=False,
            linewidths=0)
for s in cax.spines.values():
    s.set_visible(True)
    s.set_color(GREY)
    s.set_linewidth(.6)
ftext(638, 877, '0.05', ha='center')
ftext(659.7, 877, '0.01', ha='center')

fig.savefig('out.png', dpi=100)
